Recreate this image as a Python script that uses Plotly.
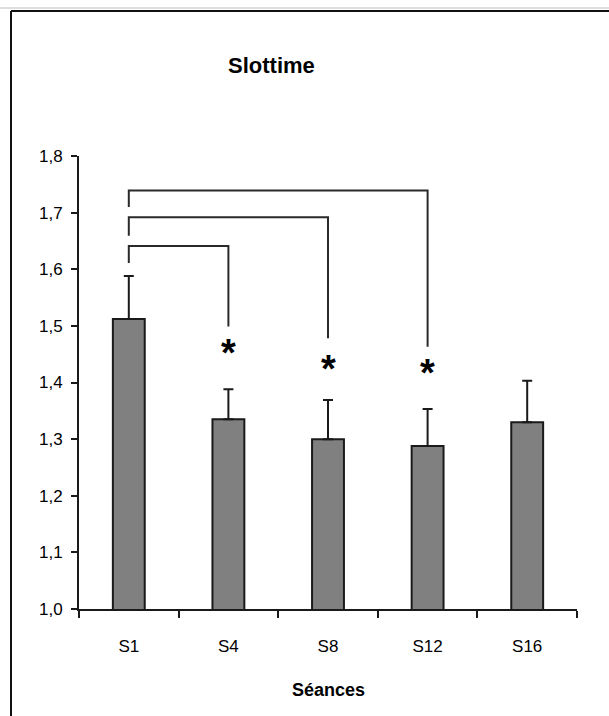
import plotly.graph_objects as go

# Session data (mean slot time with SD)
sessions = ["S1", "S4", "S8", "S12", "S16"]
means = [1.512, 1.335, 1.300, 1.288, 1.330]
sd = [0.076, 0.053, 0.069, 0.065, 0.073]

# Significance brackets: S1 compared with later sessions
bracket_from = ["S1", "S1", "S1"]
bracket_to = ["S4", "S8", "S12"]
bracket_top = [1.641, 1.692, 1.739]
bracket_left_end = [1.611, 1.659, 1.710]
bracket_right_end = [1.499, 1.478, 1.463]
star_level = [1.463, 1.435, 1.428]

y_ticks = [1.0, 1.1, 1.2, 1.3, 1.4, 1.5, 1.6, 1.7, 1.8]

W, H = 609, 716
ML, MR, MT, MB = 79, 32, 156, 107
PW, PH = W - ML - MR, H - MT - MB


def px_x(px):
    return (px - ML) / PW


def px_y(py):
    return (H - MB - py) / PH


FONT = "Liberation Sans, Arial, sans-serif"
INK = "#1a1a1a"
STAR_SIZE = 38

fig = go.Figure()

fig.add_trace(go.Bar(
    x=sessions,
    y=means,
    base=0,
    width=0.32,
    marker=dict(color="#808080", line=dict(color=INK, width=2)),
    error_y=dict(type="data", array=sd, visible=True, symmetric=False,
                 arrayminus=[0] * len(sd), color=INK, thickness=2, width=5),
    hoverinfo="skip",
    showlegend=False,
))

for a, b, top, le, re in zip(bracket_from, bracket_to, bracket_top,
                             bracket_left_end, bracket_right_end):
    fig.add_trace(go.Scatter(
        x=[a, a, b, b],
        y=[le, top, top, re],
        mode="lines",
        line=dict(color="#2a2a2a", width=2),
        hoverinfo="skip",
        showlegend=False,
    ))

# Significance stars; the glyph sits high in its box, so nudge it down
for s, lvl in zip(bracket_to, star_level):
    fig.add_annotation(
        x=s, y=lvl, xref="x", yref="y",
        text="<b>*</b>", showarrow=False,
        xanchor="center", yanchor="middle",
        yshift=-round(0.15 * STAR_SIZE),
        font=dict(family=FONT, size=STAR_SIZE, color="#000000"),
    )

fig.update_layout(
    width=W,
    height=H,
    margin=dict(l=ML, r=MR, t=MT, b=MB, autoexpand=False),
    paper_bgcolor="white",
    plot_bgcolor="white",
    separators=",.",
    font=dict(family=FONT, size=17, color="#000000"),
)

fig.update_xaxes(
    type="category",
    categoryorder="array",
    categoryarray=sessions,
    range=[-0.5, len(sessions) - 0.5],
    showline=True,
    linecolor=INK,
    linewidth=2,
    ticks="outside",
    tickson="boundaries",
    ticklen=7,
    tickwidth=2,
    tickcolor=INK,
    ticklabelstandoff=21,
    tickfont=dict(family=FONT, size=17, color="#000000"),
    showgrid=False,
    zeroline=False,
    fixedrange=True,
)

fig.update_yaxes(
    range=[1.0, 1.8],
    tickvals=y_ticks,
    tickformat=".1f",
    showline=True,
    linecolor=INK,
    linewidth=2,
    ticks="outside",
    ticklen=6,
    tickwidth=2,
    tickcolor=INK,
    ticklabelstandoff=5,
    tickfont=dict(family=FONT, size=17, color="#000000"),
    showgrid=False,
    zeroline=False,
    fixedrange=True,
)

# Chart title and axis title
fig.add_annotation(
    text="<b>Slottime</b>", xref="paper", yref="paper",
    x=px_x(271), y=px_y(65), xanchor="center", yanchor="middle",
    showarrow=False, font=dict(family=FONT, size=22, color="#000000"),
)
fig.add_annotation(
    text="<b>Séances</b>", xref="paper", yref="paper",
    x=px_x(328), y=px_y(690), xanchor="center", yanchor="middle",
    showarrow=False, font=dict(family=FONT, size=18, color="#000000"),
)

# Chart-area frame (top and left edges) with a light shadow line
fig.add_shape(type="line", xref="paper", yref="paper",
              x0=px_x(0), x1=px_x(W), y0=px_y(8), y1=px_y(8),
              line=dict(color="#bdbdbd", width=1))
fig.add_shape(type="line", xref="paper", yref="paper",
              x0=px_x(11), x1=px_x(W), y0=px_y(11), y1=px_y(11),
              line=dict(color="#111111", width=2))
fig.add_shape(type="line", xref="paper", yref="paper",
              x0=px_x(11), x1=px_x(11), y0=px_y(11), y1=px_y(H),
              line=dict(color="#111111", width=2))

fig.write_html("out.html")
